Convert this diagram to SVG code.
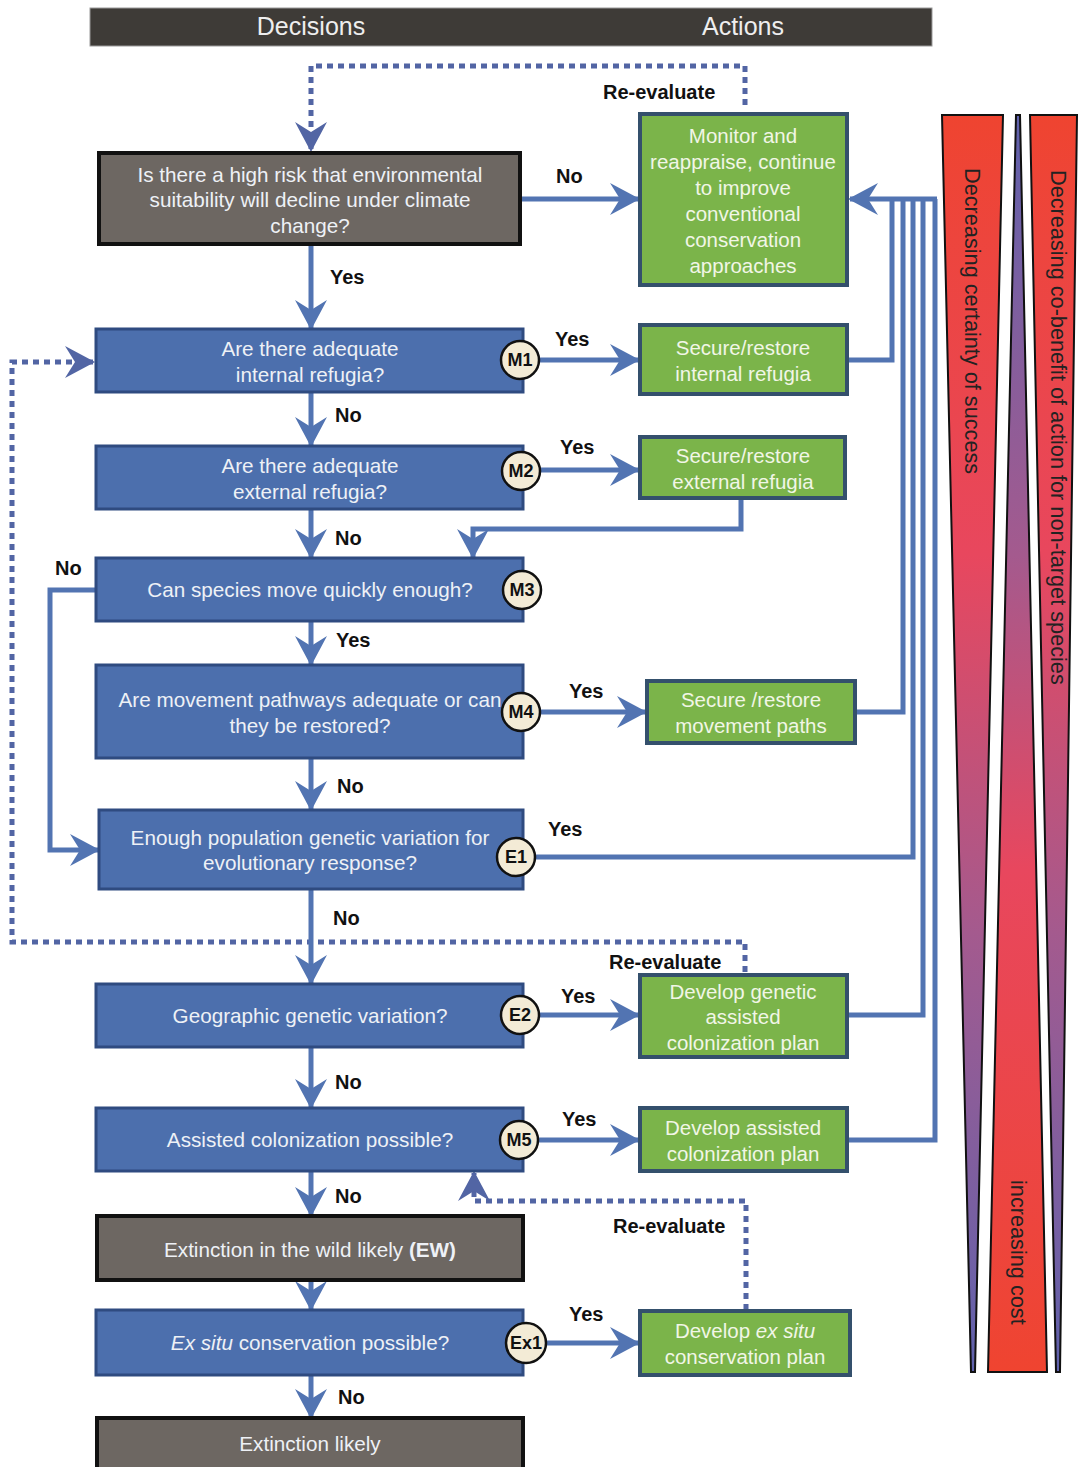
<svg xmlns="http://www.w3.org/2000/svg" width="1078" height="1467" viewBox="0 0 1078 1467">
<style>
text{font-family:"Liberation Sans",Arial,sans-serif}
.hd{fill:#3e3b37;stroke:#9a9a9a;stroke-width:1}
.hdt{fill:#eeeeee;font-size:25px;text-anchor:middle}
.q{fill:#4c6fad;stroke:#2f4b80;stroke-width:3}
.g{fill:#6d6762;stroke:#111111;stroke-width:4}
.a{fill:#7bb44a;stroke:#34506c;stroke-width:4}
.t{fill:#eef1f6;font-size:20.7px;text-anchor:middle}
.ta{fill:#f1f6e6;font-size:20.5px;text-anchor:middle}
.lb{fill:#111111;font-size:20px;font-weight:bold}
.c{fill:#f3ebd6;stroke:#111111;stroke-width:2.5}
.ct{fill:#111111;font-size:18px;font-weight:bold;text-anchor:middle}
.ln{fill:none;stroke:#5274b2;stroke-width:5}
.dl{fill:none;stroke:#5265a4;stroke-width:5;stroke-dasharray:6 5}
.w{stroke:#111111;stroke-width:2}
.wt{fill:#222222;font-size:21.7px}
</style>
<defs>
<marker id="ah" viewBox="0 0 30 32" refX="28" refY="16" markerWidth="30" markerHeight="32" markerUnits="userSpaceOnUse" orient="auto">
<path d="M0,0 L30,16 L0,32 L10,16 Z" fill="#5274b2"/>
</marker>
<marker id="ahd" viewBox="0 0 30 32" refX="28" refY="16" markerWidth="30" markerHeight="32" markerUnits="userSpaceOnUse" orient="auto">
<path d="M0,0 L30,16 L0,32 L10,16 Z" fill="#5265a4"/>
</marker>
<linearGradient id="gw" gradientUnits="userSpaceOnUse" x1="0" y1="115" x2="0" y2="1372">
<stop offset="0" stop-color="#ef4430"/>
<stop offset="0.35" stop-color="#e8475e"/>
<stop offset="0.65" stop-color="#a45a8e"/>
<stop offset="1" stop-color="#5f62ad"/>
</linearGradient>
<linearGradient id="gm" gradientUnits="userSpaceOnUse" x1="0" y1="115" x2="0" y2="1372">
<stop offset="0" stop-color="#5f62ad"/>
<stop offset="0.35" stop-color="#a45a8e"/>
<stop offset="0.6" stop-color="#e8475e"/>
<stop offset="1" stop-color="#ef4430"/>
</linearGradient>
</defs>

<g id="header">
<rect class="hd" x="90" y="8" width="842" height="38"/>
<text class="hdt" x="311" y="35">Decisions</text>
<text class="hdt" x="743" y="35">Actions</text>
</g>

<g id="wedges">
<polygon class="w" fill="url(#gw)" points="942,115 1003,115 975,1372 971,1372"/>
<polygon class="w" fill="url(#gm)" points="1016,115 1020,115 1047,1372 988,1372"/>
<polygon class="w" fill="url(#gw)" points="1030,115 1077,115 1060,1372 1056,1372"/>
<text class="wt" transform="translate(965,168) rotate(90)">Decreasing certainty of success</text>
<text class="wt" transform="translate(1051,170) rotate(90)">Decreasing co-benefit of action for non-target species</text>
<text class="wt" transform="translate(1011,1180) rotate(90)">increasing cost</text>
</g>

<g id="connectors">
<path class="dl" d="M745,105 V66 H311 V150" marker-end="url(#ahd)"/>
<path class="ln" d="M520,199 H638" marker-end="url(#ah)"/>
<path class="ln" d="M311,244 V328" marker-end="url(#ah)"/>
<path class="ln" d="M540,360 H638" marker-end="url(#ah)"/>
<path class="ln" d="M311,392 V445" marker-end="url(#ah)"/>
<path class="ln" d="M541,470 H638" marker-end="url(#ah)"/>
<path class="ln" d="M741,498 V529 H473 V557" marker-end="url(#ah)"/>
<path class="ln" d="M311,509 V557" marker-end="url(#ah)"/>
<path class="ln" d="M96,590 H50 V850 H98" marker-end="url(#ah)"/>
<path class="ln" d="M311,621 V664" marker-end="url(#ah)"/>
<path class="ln" d="M541,712 H645" marker-end="url(#ah)"/>
<path class="ln" d="M311,758 V809" marker-end="url(#ah)"/>
<path class="dl" d="M745,972 V942 H12 V362 H93" marker-end="url(#ahd)"/>
<path class="ln" d="M311,889 V983" marker-end="url(#ah)"/>
<path class="ln" d="M539,1015 H638" marker-end="url(#ah)"/>
<path class="ln" d="M311,1047 V1107" marker-end="url(#ah)"/>
<path class="ln" d="M538,1140 H638" marker-end="url(#ah)"/>
<path class="ln" d="M311,1171 V1215" marker-end="url(#ah)"/>
<path class="dl" d="M746,1310 V1201 H474 V1173" marker-end="url(#ahd)"/>
<path class="ln" d="M311,1280 V1309" marker-end="url(#ah)"/>
<path class="ln" d="M547,1343 H638" marker-end="url(#ah)"/>
<path class="ln" d="M311,1375 V1417" marker-end="url(#ah)"/>
<path class="ln" d="M847,360 H892 V199"/>
<path class="ln" d="M855,712 H903 V199"/>
<path class="ln" d="M536,857 H913 V199"/>
<path class="ln" d="M847,1015 H923 V199"/>
<path class="ln" d="M847,1140 H935 V199"/>
<path class="ln" d="M937,199 H850" marker-end="url(#ah)"/>
<text class="lb" x="556" y="183">No</text>
<text class="lb" x="330" y="284">Yes</text>
<text class="lb" x="555" y="346">Yes</text>
<text class="lb" x="335" y="422">No</text>
<text class="lb" x="560" y="454">Yes</text>
<text class="lb" x="335" y="545">No</text>
<text class="lb" x="55" y="575">No</text>
<text class="lb" x="336" y="647">Yes</text>
<text class="lb" x="569" y="698">Yes</text>
<text class="lb" x="337" y="793">No</text>
<text class="lb" x="548" y="836">Yes</text>
<text class="lb" x="333" y="925">No</text>
<text class="lb" x="561" y="1003">Yes</text>
<text class="lb" x="335" y="1089">No</text>
<text class="lb" x="562" y="1126">Yes</text>
<text class="lb" x="335" y="1203">No</text>
<text class="lb" x="569" y="1321">Yes</text>
<text class="lb" x="338" y="1404">No</text>
<text class="lb" x="603" y="99">Re-evaluate</text>
<text class="lb" x="609" y="969">Re-evaluate</text>
<text class="lb" x="613" y="1233">Re-evaluate</text>
</g>

<g id="q0">
<rect class="g" x="99" y="153" width="421" height="91"/>
<text class="t" x="310" y="182">Is there a high risk that environmental</text>
<text class="t" x="310" y="207">suitability will decline under climate</text>
<text class="t" x="310" y="233">change?</text>
</g>
<g id="a0">
<rect class="a" x="640" y="114" width="207" height="171"/>
<text class="ta" x="743" y="143">Monitor and</text>
<text class="ta" x="743" y="169">reappraise, continue</text>
<text class="ta" x="743" y="195">to improve</text>
<text class="ta" x="743" y="221">conventional</text>
<text class="ta" x="743" y="247">conservation</text>
<text class="ta" x="743" y="273">approaches</text>
</g>

<g id="m1">
<rect class="q" x="96" y="329" width="427" height="63"/>
<text class="t" x="310" y="356">Are there adequate</text>
<text class="t" x="310" y="382">internal refugia?</text>
<circle class="c" cx="520" cy="360" r="19"/>
<text class="ct" x="520" y="366">M1</text>
</g>
<g id="a1">
<rect class="a" x="640" y="325" width="207" height="69"/>
<text class="ta" x="743" y="355">Secure/restore</text>
<text class="ta" x="743" y="381">internal refugia</text>
</g>

<g id="m2">
<rect class="q" x="96" y="446" width="427" height="63"/>
<text class="t" x="310" y="473">Are there adequate</text>
<text class="t" x="310" y="499">external refugia?</text>
<circle class="c" cx="521" cy="471" r="19"/>
<text class="ct" x="521" y="477">M2</text>
</g>
<g id="a2">
<rect class="a" x="640" y="437" width="205" height="61"/>
<text class="ta" x="743" y="463">Secure/restore</text>
<text class="ta" x="743" y="489">external refugia</text>
</g>

<g id="m3">
<rect class="q" x="96" y="558" width="427" height="63"/>
<text class="t" x="310" y="597">Can species move quickly enough?</text>
<circle class="c" cx="522" cy="590" r="19"/>
<text class="ct" x="522" y="596">M3</text>
</g>

<g id="m4">
<rect class="q" x="96" y="665" width="427" height="93"/>
<text class="t" x="310" y="707">Are movement pathways adequate or can</text>
<text class="t" x="310" y="733">they be restored?</text>
<circle class="c" cx="521" cy="712" r="19"/>
<text class="ct" x="521" y="718">M4</text>
</g>
<g id="a4">
<rect class="a" x="647" y="681" width="208" height="62"/>
<text class="ta" x="751" y="707">Secure /restore</text>
<text class="ta" x="751" y="733">movement paths</text>
</g>

<g id="e1">
<rect class="q" x="99" y="810" width="424" height="79"/>
<text class="t" x="310" y="845">Enough population genetic variation for</text>
<text class="t" x="310" y="870">evolutionary response?</text>
<circle class="c" cx="516" cy="857" r="19"/>
<text class="ct" x="516" y="863">E1</text>
</g>

<g id="e2">
<rect class="q" x="96" y="984" width="427" height="63"/>
<text class="t" x="310" y="1023">Geographic genetic variation?</text>
<circle class="c" cx="520" cy="1015" r="19"/>
<text class="ct" x="520" y="1021">E2</text>
</g>
<g id="a5">
<rect class="a" x="640" y="975" width="207" height="82"/>
<text class="ta" x="743" y="999">Develop genetic</text>
<text class="ta" x="743" y="1024">assisted</text>
<text class="ta" x="743" y="1050">colonization plan</text>
</g>

<g id="m5">
<rect class="q" x="96" y="1108" width="427" height="63"/>
<text class="t" x="310" y="1147">Assisted colonization possible?</text>
<circle class="c" cx="519" cy="1140" r="19"/>
<text class="ct" x="519" y="1146">M5</text>
</g>
<g id="a6">
<rect class="a" x="640" y="1108" width="207" height="63"/>
<text class="ta" x="743" y="1135">Develop assisted</text>
<text class="ta" x="743" y="1161">colonization  plan</text>
</g>

<g id="ew">
<rect class="g" x="97" y="1216" width="426" height="64"/>
<text class="t" x="310" y="1257">Extinction in the wild likely <tspan font-weight="bold">(EW)</tspan></text>
</g>

<g id="ex1">
<rect class="q" x="96" y="1310" width="427" height="65"/>
<text class="t" x="310" y="1350"><tspan font-style="italic">Ex situ</tspan> conservation possible?</text>
<circle class="c" cx="526" cy="1343" r="20"/>
<text class="ct" x="526" y="1349">Ex1</text>
</g>
<g id="a7">
<rect class="a" x="640" y="1311" width="210" height="64"/>
<text class="ta" x="745" y="1338">Develop <tspan font-style="italic">ex situ</tspan></text>
<text class="ta" x="745" y="1364">conservation plan</text>
</g>

<g id="ext">
<rect class="g" x="97" y="1418" width="426" height="52"/>
<text class="t" x="310" y="1451">Extinction likely</text>
</g>
</svg>
